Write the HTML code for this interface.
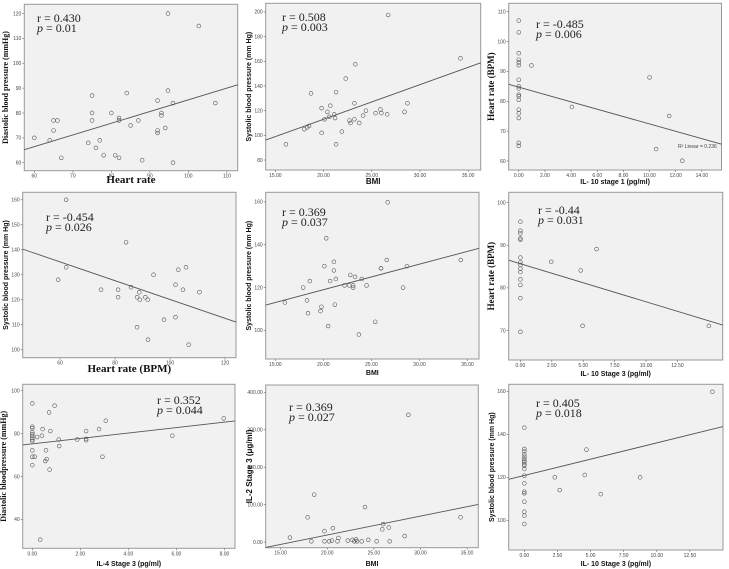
<!DOCTYPE html>
<html><head><meta charset="utf-8"><style>
body{margin:0;background:#fff;width:729px;height:569px;overflow:hidden}
svg{display:block}
.tk{font-family:"Liberation Sans",sans-serif;font-size:5px;fill:#444}
.an{font-family:"Liberation Serif",serif;font-size:12px;fill:#222}
.ts{font-family:"Liberation Serif",serif;font-weight:bold;fill:#111}
.tn{font-family:"Liberation Sans",sans-serif;font-weight:bold;fill:#111}
</style></head><body>
<svg id="chart" width="729" height="569" viewBox="0 0 729 569" xmlns="http://www.w3.org/2000/svg"></svg>
<script>
// Panel data
const p1X=[94.7,102.7,94.7,75,84,92,96,107,75,80,93,93,82,82,65,66,75,87,85,65,94,92,92,60,64,77,74,76,67,78,81,82,88,96];
const p1Y=[120,115,89,87,88,85,84,84,80,80,80,79,78,77,77,77,77,77,75,73,74,73,72,70,69,69,68,66,62,63,63,62,61,60];
const p2X=[26.7,34.2,23.3,22.3,21.3,18.7,23.2,28.7,20.7,19.8,25.9,24.4,20.4,21.1,25.4,26,26.6,28.4,20.6,20.1,21.2,24.1,23.2,22.7,22.8,23.7,18,18.3,18.5,19.8,21.9,16.1,21.3];
const p2Y=[197.6,162.4,157.6,146,135,134,126,126,124,122,121,120,119,117,118,118,117,119,115,113,114,116,113,112,110,110,105,106.5,107.6,102,103,92.7,92.7];
const p3X=[0,0,0,0,0,0,0,0,0,0,0,0,0,0,0,0,0,0.97,4.06,10,11.5,10.5,12.5];
const p3Y=[107,103.1,96.1,93.9,93,92.1,87.2,85,84.3,82.2,81.7,80.5,77.2,76,74.4,66.1,65.1,92,78.1,88,75.1,64,60.1];
const p4X=[62.2,84,62.2,59.3,74.9,81.1,81.1,85.8,88.8,88,89,91,91.9,94,102,103,105.8,104.7,110.7,97.8,102,88,92,106.8];
const p4Y=[160,143,133,128,124,124,121,125,123,121,120,121,120,130,126,132,133,124,123,112,113,109,104,102];
const p5X=[26.7,20.3,26.6,34.3,20.1,28.7,21.1,21.1,26,26,22.8,21.3,23.3,18.6,20.7,24,22.2,22.7,23.1,24.5,23.1,17.9,28.3,16,18.3,21.2,19.8,19.7,18.4,25.4,20.5,23.7];
const p5Y=[159.8,143,132.9,132.9,130,130,132,128,129,129,125.9,124,125,123,123,124,121,121,121,121,120,120,120,113,114,112,111,109,108,104,102,98];
const p6X=[0,0,0,0,0,0,0,0,0,0,0,0,0,0,2.45,4.8,6.06,4.95,15];
const p6Y=[95.5,93.4,92.8,91.6,91.3,87.1,86,85.4,84.5,83.7,82,80.7,77.6,69.7,86.1,84.1,89.1,71.1,71.1];
const p7X=[0,0,0,0,0,0,0,0,0,0,0,0,0.1,0.2,0.4,0.43,0.57,0.6,0.54,0.7,0.72,0.75,0.93,1.1,1.12,1.87,2.24,2.24,2.24,2.78,2.92,3.06,5.83,7.97,0.33];
const p7Y=[94.1,83.2,82.5,80.6,79.7,78.9,78.1,77.3,76.5,72.2,69.2,65.3,69.2,78.4,79,82.1,72.2,68.1,67.2,89.9,63.2,81.2,93,77.2,74.2,77.2,81.2,77.5,76.9,82.1,69.2,86,79,87.1,30.5];
const p8X=[28.7,18.6,24.05,17.9,34.3,26,25.9,26.6,20.6,19.7,28.3,16,21.2,18.3,19.7,20.2,20.5,21.1,22.2,22.7,22.9,23.1,23.2,23.7,24.4,25.3,26.7];
const p8Y=[340,127,93.5,66,66,48,34,39,37,29,16,12,11,2,2,2,4,2,4,6,2,7,2,2,6,2,2];
const p9X=[0,0,0,0,0,0,0,0,0,0,0,0,0,0,0,0,0,0,0,2.3,2.67,4.56,4.69,5.77,8.74,14.2];
const p9Y=[143.1,133.2,132.2,130.7,129.6,128.5,127.6,127,126,125.4,123.9,120.8,117.2,113.3,112.6,108.7,104,102.2,98.3,120,114.1,121.1,132.9,112.2,120,159.8];
// regression fits [intercept, slope]
const fit1=[38.2,0.471],fit2=[56.8,2.81],fit3=[84.75,-1.233],fit4=[157.7,-0.376],fit5=[95.1,1.194],fit6=[85.67,-0.893],fit7=[75.2,1.267],fit8=[-81.9,5.04],fit9=[120.9,1.514];
// tick labels
const xt1=[60,70,80,90,100,110],yt1=[60,70,80,90,100,110,120];
const xt2=[15,20,25,30,35],yt2=[80,100,120,140,160,180,200];
const xt3=[0,2,4,6,8,10,12,14],yt3=[60,70,80,90,100,110];
const xt4=[60,80,100,120],yt4=[100,110,120,130,140,150,160];
const xt5=[15,20,25,30,35],yt5=[100,120,140,160];
const xt6=[0,2.5,5,7.5,10,12.5],yt6=[70,80,90,100];
const xt7=[0,2,4,6,8],yt7=[40,60,80,100];
const xt8=[15,20,25,30,35],yt8=[0,100,200,300,400];
const xt9=[0,2.5,5,7.5,10,12.5],yt9=[100,120,140,160];
const rLabels=["r = 0.430","r = 0.508","r = -0.485","r = -0.454","r = 0.369","r = -0.44","r = 0.352","r = 0.369","r = 0.405"];
const pLabels=["0.01","0.003","0.006","0.026","0.037","0.031","0.044","0.027","0.018"];

const NS="http://www.w3.org/2000/svg";
const svg=document.getElementById('chart');
function mk(tag,attrs,parent){const e=document.createElementNS(NS,tag);for(const k in attrs)e.setAttribute(k,attrs[k]);(parent||svg).appendChild(e);return e;}

const panels=[
{b:[24.3,4.3,237.7,170.7],xd:[57.4,112.8],yd:[56.8,123.7],X:p1X,Y:p1Y,f:fit1,xt:xt1,yt:yt1,xf:0,yf:0,an:[37,22],xl:"Heart rate",xs:"ts",xsz:11,xly:183,yl:"Diastolic blood pressure (mmHg)",ys:"ts",ysz:8,ylx:8},
{b:[265.7,3.3,480.7,170],xd:[14,36.3],yd:[71.9,207],X:p2X,Y:p2Y,f:fit2,xt:xt2,yt:yt2,xf:2,yf:0,an:[282,21],xl:"BMI",xs:"tn",xsz:8,xly:184,yl:"Systolic blood pressure  (mm Hg)",ys:"tn",ysz:7,ylx:251},
{b:[508.7,3.3,721.5,170],xd:[-0.77,15.5],yd:[57,112.8],X:p3X,Y:p3Y,f:fit3,xt:xt3,yt:yt3,xf:2,yf:0,an:[536,28],xl:"IL- 10 stage 1   (pg/ml)",xs:"tn",xsz:7,xly:184,yl:"Heart rate (BPM)",ys:"ts",ysz:9,ylx:494,r2:true},
{b:[22.7,192.3,236,357.7],xd:[46.4,124],yd:[96.8,163],X:p4X,Y:p4Y,f:fit4,xt:xt4,yt:yt4,xf:0,yf:0,an:[46,221],xl:"Heart rate (BPM)",xs:"ts",xsz:11,xly:372,yl:"Systolic blood pressure    (mm Hg)",ys:"tn",ysz:7,ylx:8},
{b:[265.7,192.3,479,359],xd:[14,36.2],yd:[86.6,164.5],X:p5X,Y:p5Y,f:fit5,xt:xt5,yt:yt5,xf:2,yf:0,an:[282,216],xl:"BMI",xs:"tn",xsz:7,xly:375,yl:"Systolic blood pressure (mm Hg)",ys:"tn",ysz:7,ylx:251},
{b:[508.7,192.3,722.7,360],xd:[-0.93,16.1],yd:[63.1,102.4],X:p6X,Y:p6Y,f:fit6,xt:xt6,yt:yt6,xf:2,yf:0,an:[538,214],xl:"IL- 10 Stage 3  (pg/ml)",xs:"tn",xsz:7,xly:376,yl:"Heart rate (BPM)",ys:"ts",ysz:9,ylx:494},
{b:[22.7,384.3,235,548.3],xd:[-0.4,8.44],yd:[26.5,103],X:p7X,Y:p7Y,f:fit7,xt:xt7,yt:yt7,xf:2,yf:0,an:[157,404],xl:"IL-4  Stage 3   (pg/ml)",xs:"tn",xsz:7,xly:566,yl:"Diastolic bloodpressure (mmHg)",ys:"ts",ysz:8,ylx:6},
{b:[265.7,385,478.3,547.7],xd:[13.4,36.2],yd:[-15.1,419.6],X:p8X,Y:p8Y,f:fit8,xt:xt8,yt:yt8,xf:2,yf:2,an:[289,411],xl:"BMI",xs:"tn",xsz:7,xly:566,yl:"IL-2 Stage 3 (μg/ml)",ys:"tn",ysz:8,ylx:252},
{b:[508.7,384.3,723,550],xd:[-1.18,15],yd:[86.2,163.3],X:p9X,Y:p9Y,f:fit9,xt:xt9,yt:yt9,xf:2,yf:0,an:[536,407],xl:"IL- 10  Stage 3  (pg/ml)",xs:"tn",xsz:7,xly:566,yl:"Systolic blood pressure  (mm Hg)",ys:"tn",ysz:7,ylx:494}
];

panels.forEach((P,i)=>{
  const g=mk('g',{});
  
  
  const [x0,y0,x1,y1]=P.b;
  const sx=v=>x0+(v-P.xd[0])/(P.xd[1]-P.xd[0])*(x1-x0);
  const sy=v=>y1-(v-P.yd[0])/(P.yd[1]-P.yd[0])*(y1-y0);
  const bg=mk('rect',{x:x0,y:y0,width:x1-x0,height:y1-y0,fill:'#f1f1f1',stroke:'#999','stroke-width':1},g);
  
  
  P.xt.forEach(v=>{
    const x=sx(v);
    mk('line',{x1:x,x2:x,y1:y1,y2:y1+2,stroke:'#666','stroke-width':0.6},g);
    const t=mk('text',{x:x,y:y1+7,'text-anchor':'middle',class:'tk'},g);
    t.textContent=v.toFixed(P.xf);
    
    
  });
  P.yt.forEach(v=>{
    const y=sy(v);
    mk('line',{x1:x0-2,x2:x0,y1:y,y2:y,stroke:'#666','stroke-width':0.6},g);
    const t=mk('text',{x:x0-3,y:y+1.8,'text-anchor':'end',class:'tk'},g);
    t.textContent=v.toFixed(P.yf);
    
    
  });
  const ln=mk('line',{x1:sx(P.xd[0]),y1:sy(P.f[0]+P.f[1]*P.xd[0]),x2:sx(P.xd[1]),y2:sy(P.f[0]+P.f[1]*P.xd[1]),stroke:'#555','stroke-width':0.9},g);
  
  
  P.X.forEach((v,k)=>{
    const c=mk('circle',{cx:sx(v),cy:sy(P.Y[k]),r:1.9,fill:'none',stroke:'#555','stroke-width':0.6},g);
    
    
  });
  const r=mk('text',{x:P.an[0],y:P.an[1],class:'an'},g);
  r.textContent=rLabels[i];
  
  
  const p=mk('text',{x:P.an[0],y:P.an[1]+10,class:'an'},g);
  p.innerHTML='<tspan font-style="italic">p</tspan> = '+pLabels[i];
  
  
  const xl=mk('text',{x:(x0+x1)/2,y:P.xly,'text-anchor':'middle',class:P.xs,'font-size':P.xsz},g);
  xl.textContent=P.xl;
  
  
  const yc=(y0+y1)/2;
  const yl=mk('text',{x:P.ylx,y:yc,'text-anchor':'middle',class:P.ys,'font-size':P.ysz,transform:'rotate(-90 '+P.ylx+' '+yc+')'},g);
  yl.textContent=P.yl;
  
  
  if(P.r2){
    const t=mk('text',{x:678,y:148,class:'tk','font-size':4},g);
    t.textContent='R² Linear = 0.236';
    
    
  }
});
</script>
</body></html>
